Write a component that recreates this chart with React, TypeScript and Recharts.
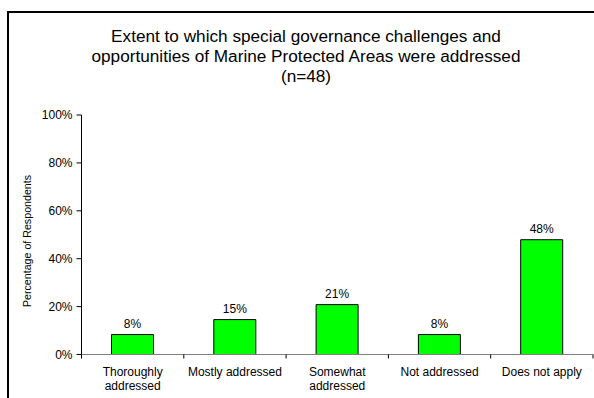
import React from 'react';
import { BarChart, Bar, XAxis, YAxis, LabelList } from 'recharts';

const categories = [
  'Thoroughly addressed',
  'Mostly addressed',
  'Somewhat addressed',
  'Not addressed',
  'Does not apply',
];
const percentages = [8.33, 14.58, 20.83, 8.33, 47.92];
const yTicks = [0, 20, 40, 60, 80, 100];
const titleLines = [
  'Extent to which special governance challenges and',
  'opportunities of Marine Protected Areas were addressed',
  '(n=48)',
];
const yLabel = 'Percentage of Respondents';

const data = categories.map((c, i) => ({ category: c, value: percentages[i] }));

const FONT = '"Liberation Sans", Arial, Helvetica, sans-serif';
const W = 594;
const H = 398;
const X_AXIS_H = 30;
const M = { top: 115, right: 1, bottom: 43.5 - X_AXIS_H, left: 21.5 };
const Y_AXIS_W = 60;
const PLOT_LEFT = M.left + Y_AXIS_W;
const PLOT_W = W - M.right - PLOT_LEFT;
const AXIS_Y = H - 43.5;
const BAND = PLOT_W / categories.length;
const TICK_FONT = 12;

let ctx: CanvasRenderingContext2D | null = null;
const measure = (s: string) => {
  if (!ctx && typeof document !== 'undefined') {
    ctx = document.createElement('canvas').getContext('2d');
  }
  if (!ctx) return s.length * TICK_FONT * 0.55;
  ctx.font = `${TICK_FONT}px ${FONT}`;
  return ctx.measureText(s).width;
};

const wrap = (s: string, maxW: number) => {
  const words = s.split(' ');
  const lines: string[] = [];
  let cur = '';
  words.forEach((w) => {
    const next = cur ? `${cur} ${w}` : w;
    if (cur && measure(next) > maxW) {
      lines.push(cur);
      cur = w;
    } else {
      cur = next;
    }
  });
  if (cur) lines.push(cur);
  return lines;
};

const XTick = (props: any) => {
  const { x, payload, index } = props;
  const left = x - BAND / 2;
  const right = x + BAND / 2;
  const lines = wrap(String(payload.value), BAND - 2);
  return (
    <g>
      <line x1={left} x2={left} y1={AXIS_Y} y2={AXIS_Y + 4} stroke="#000" />
      {index === categories.length - 1 && (
        <line x1={right} x2={right} y1={AXIS_Y} y2={AXIS_Y + 4} stroke="#000" />
      )}
      <text
        x={x}
        y={AXIS_Y + 21.5}
        textAnchor="middle"
        fontSize={TICK_FONT}
        fontFamily={FONT}
        fill="#000"
      >
        {lines.map((l, i) => (
          <tspan key={i} x={x} dy={i === 0 ? 0 : 13.5}>
            {l}
          </tspan>
        ))}
      </text>
    </g>
  );
};

const YLabel = () => (
  <text
    x={31}
    y={241}
    transform="rotate(-90, 31, 241)"
    textAnchor="middle"
    fontSize={10.67}
    fontFamily={FONT}
    fill="#000"
  >
    {yLabel}
  </text>
);

export default function App() {
  return (
    <div
      style={{
        position: 'absolute',
        left: 0,
        top: 0,
        width: W,
        height: H,
        overflow: 'hidden',
        background: '#fff',
        fontFamily: FONT,
      }}
    >
      <div
        style={{
          position: 'absolute',
          left: 7,
          top: 11,
          width: 620,
          height: 500,
          border: '2px solid #000',
        }}
      />
      <div
        style={{
          position: 'absolute',
          left: 6,
          top: 26,
          width: 600,
          textAlign: 'center',
          fontSize: 17.2,
          lineHeight: '20px',
          color: '#000',
        }}
      >
        {titleLines.map((l, i) => (
          <div key={i}>{l}</div>
        ))}
      </div>
      <div style={{ position: 'absolute', left: 0, top: 0 }}>
        <BarChart width={W} height={H} data={data} margin={M} barSize={42}>
          <XAxis
            dataKey="category"
            height={X_AXIS_H}
            tick={<XTick />}
            tickLine={false}
            axisLine={{ stroke: '#808080' }}
            interval={0}
          />
          <YAxis
            width={Y_AXIS_W}
            domain={[0, 100]}
            ticks={yTicks}
            interval={0}
            tickFormatter={(v: number) => `${v}%`}
            tickSize={5}
            tickMargin={4}
            axisLine={{ stroke: '#000' }}
            tickLine={{ stroke: '#000' }}
            tick={{ fontSize: 12, fill: '#000', fontFamily: FONT }}
            label={<YLabel />}
          />
          <Bar
            dataKey="value"
            fill="#00FF00"
            stroke="#000"
            strokeWidth={1}
            isAnimationActive={false}
          >
            <LabelList
              dataKey="value"
              position="top"
              offset={7}
              formatter={(v: any) => `${Math.round(Number(v))}%`}
              fontSize={12}
              fontFamily={FONT}
              fill="#000"
            />
          </Bar>
        </BarChart>
      </div>
    </div>
  );
}
